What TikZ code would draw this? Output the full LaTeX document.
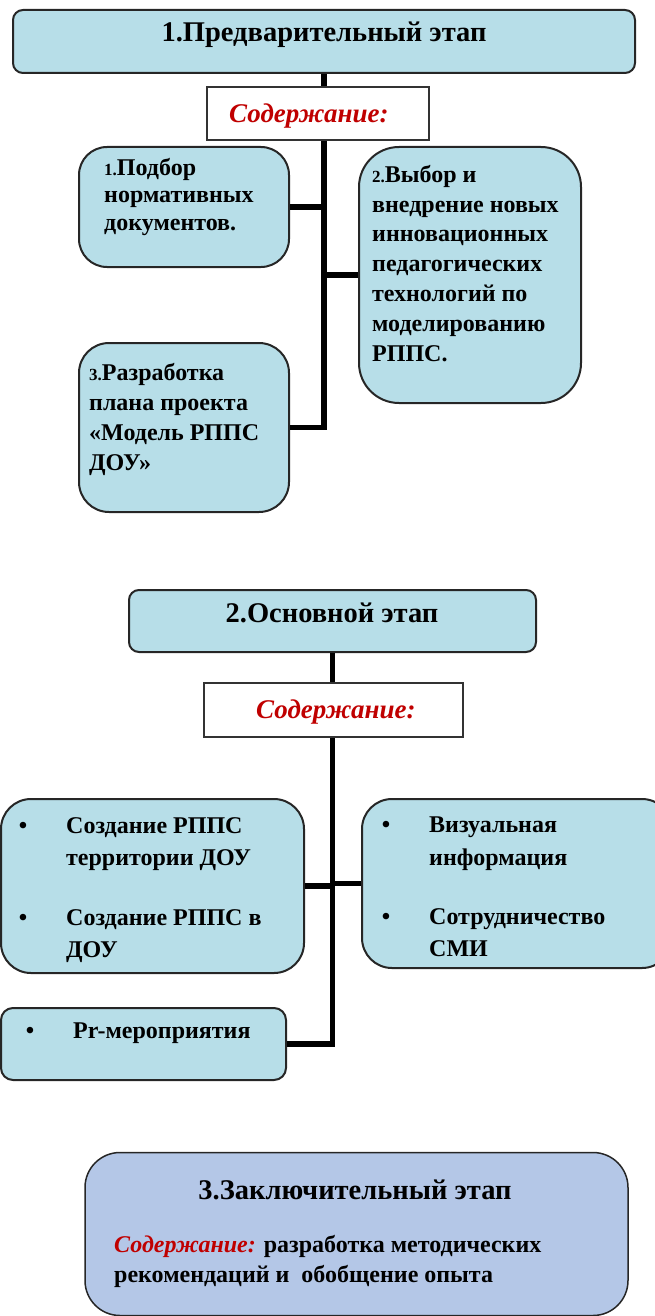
\documentclass[tikz,border=0pt]{standalone}
\usepackage{fontspec}
\setmainfont{Liberation Serif}
\definecolor{boxfill}{RGB}{183,222,232}
\definecolor{finfill}{RGB}{180,199,231}
\definecolor{redtxt}{RGB}{192,0,0}
\begin{document}
\begin{tikzpicture}[x=1pt,y=-1pt,
  stage/.style={draw=black!85, line width=2pt, fill=boxfill, rounded corners=10pt, inner sep=0pt},
  item/.style={draw=black!85, line width=2pt, fill=boxfill, inner sep=0pt},
  content/.style={draw=black!80, line width=1.5pt, fill=white, inner sep=0pt},
  conn/.style={line width=5.5pt, black, line join=miter},
  ttl/.style={font=\fontsize{28.5}{32}\selectfont\bfseries, anchor=base, inner sep=0pt},
  sod/.style={font=\fontsize{27}{30}\selectfont\bfseries\itshape, text=redtxt, anchor=base west, inner sep=0pt},
  txt/.style={font=\fontsize{24}{30}\selectfont\bfseries, anchor=base west, inner sep=0pt, align=left},
  bul/.style={font=\fontsize{24}{30}\selectfont\bfseries, anchor=base, inner sep=0pt}
]
\useasboundingbox (0,0) rectangle (655,1316);
\clip (0,0) rectangle (655,1316);

% ---------- Section 1 ----------
\node[stage, minimum width=622pt, minimum height=63pt] (t1) at (324,41.5) {};
\node[content, minimum width=222pt, minimum height=53pt] (c1) at (318,113.5) {};
\node[item, rounded corners=28pt, minimum width=210pt, minimum height=120pt] (b1a) at (184,207) {};
\node[item, rounded corners=40pt, minimum width=222pt, minimum height=256pt] (b1b) at (470,275) {};
\node[item, rounded corners=30pt, minimum width=210pt, minimum height=169pt] (b1c) at (184,427.5) {};

\draw[conn] (t1.south) -- (t1.south |- c1.north);
\draw[conn] (b1c.east) -- (t1.south |- b1c.east) -- (t1.south |- c1.south);
\draw[conn] (b1a.east) -- (t1.south |- b1a.east);
\draw[conn] (t1.south |- b1b.west) -- (b1b.west);

\node[ttl] (t1txt) at (324,42) {1.Предварительный этап};
\node[sod] (c1txt) at (229,123) {Содержание:};
\node[txt, font=\fontsize{24}{27.5}\selectfont\bfseries] (b1atxt) at (104,230) {{\fontsize{17}{20}\selectfont 1.}Подбор\\нормативных\\документов.};
\node[txt, font=\fontsize{24}{29.8}\selectfont\bfseries] (b1btxt) at (372,361) {{\fontsize{17}{20}\selectfont 2.}Выбор и\\внедрение новых\\инновационных\\педагогических\\технологий по\\моделированию\\РППС.};
\node[txt] (b1ctxt) at (89,470) {{\fontsize{17}{20}\selectfont 3.}Разработка\\плана проекта\\«Модель РППС\\ДОУ»};

% ---------- Section 2 ----------
\node[stage, minimum width=407pt, minimum height=62pt] (t2) at (332.5,621) {};
\node[content, minimum width=259pt, minimum height=54pt] (c2) at (333.5,710) {};
\node[item, rounded corners=30pt, minimum width=303pt, minimum height=174pt] (b2a) at (152.5,886) {};
\node[item, rounded corners=30pt, minimum width=310pt, minimum height=169pt] (b2b) at (517,883.5) {};
\node[item, rounded corners=12pt, minimum width=285pt, minimum height=72pt] (b2c) at (143.5,1044) {};

\draw[conn] (t2.south) -- (t2.south |- c2.north);
\draw[conn] (b2c.east) -- (t2.south |- b2c.east) -- (t2.south |- c2.south);
\draw[conn] (b2a.east) -- (t2.south |- b2a.east);
\draw[conn] (t2.south |- b2b.west) -- (b2b.west);

\node[ttl] (t2txt) at (332,622) {2.Основной этап};
\node[sod] (c2txt) at (256,718) {Содержание:};
\node[bul] (b2ab1) at (23,833) {•};
\node[txt, font=\fontsize{24}{32}\selectfont\bfseries] (b2at1) at (66,865) {Создание РППС\\территории ДОУ};
\node[bul] (b2ab2) at (23,925) {•};
\node[txt, font=\fontsize{24}{32}\selectfont\bfseries] (b2at2) at (66,957) {Создание РППС в\\ДОУ};
\node[bul] (b2bb1) at (386,832) {•};
\node[txt, font=\fontsize{24}{33}\selectfont\bfseries] (b2bt1) at (429,865) {Визуальная\\информация};
\node[bul] (b2bb2) at (386,924) {•};
\node[txt, font=\fontsize{24}{32}\selectfont\bfseries] (b2bt2) at (429,956) {Сотрудничество\\СМИ};
\node[bul] (b2cb) at (30,1038) {•};
\node[txt] (b2ct) at (73,1038) {Pr-мероприятия};

% ---------- Section 3 ----------
\node[draw=black!85, line width=1.5pt, fill=finfill, rounded corners=35pt, inner sep=0pt, minimum width=543pt, minimum height=163pt] (b3) at (356.5,1234) {};
\node[ttl] (t3txt) at (355,1199) {3.Заключительный этап};
\node[txt] (b3txt) at (114,1282) {{\color{redtxt}\itshape Содержание:} разработка методических\\рекомендаций и~~обобщение опыта};
\end{tikzpicture}
\end{document}
